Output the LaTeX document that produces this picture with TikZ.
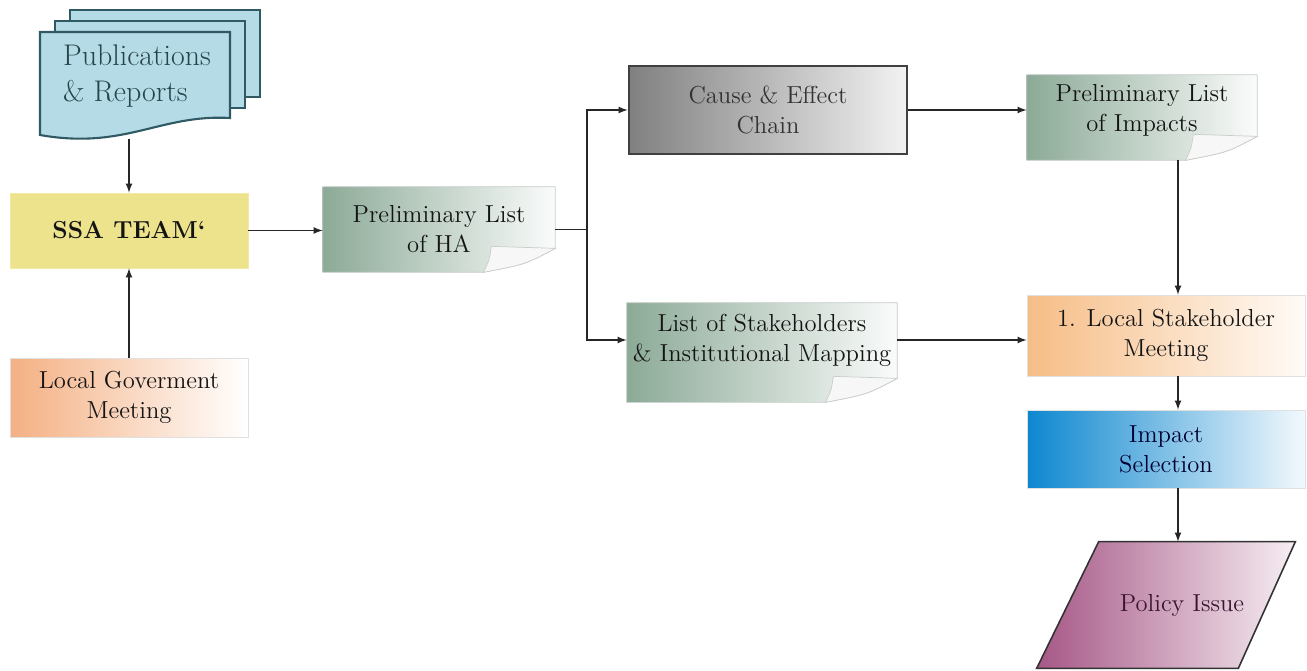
\documentclass[tikz,border=0pt]{standalone}
\usepackage{fontspec}
\usetikzlibrary{calc,backgrounds}

\definecolor{pubblue}{HTML}{B5DCE6}
\definecolor{publine}{HTML}{2F5963}
\definecolor{pubtext}{HTML}{26444A}
\definecolor{ssayellow}{HTML}{EDE38D}
\definecolor{govorange}{HTML}{F4B083}
\definecolor{sheetgreen}{HTML}{8CAA97}
\definecolor{sheetline}{HTML}{C8CEC9}
\definecolor{chaingray}{HTML}{808080}
\definecolor{meetorange}{HTML}{F6BD86}
\definecolor{selblue}{HTML}{0D87CF}
\definecolor{polmauve}{HTML}{A65786}
\definecolor{poltext}{HTML}{3A1630}

% note sheet with a curled corner round a node
\newcommand{\curlbox}[2]{%
  \begin{scope}[on background layer]
  \path[left color=sheetgreen, right color=white!96!sheetgreen, draw=sheetline]
    (#1.north west) -- (#1.north east) -- ($(#1.south east)+(0,#2-24)$)
    .. controls ($(#1.south east)+(-30,#2-8)$) .. ($(#1.south east)+(-72,#2)$)
    -- ($(#1.south west)+(0,#2)$) -- cycle;
  \path[fill=white!92!blue!40!gray!10, draw=sheetline]
    ($(#1.south east)+(-72,#2)$) .. controls ($(#1.south east)+(-66,#2-12)$) .. ($(#1.south east)+(-64,#2-26)$)
    -- ($(#1.south east)+(0,#2-24)$)
    .. controls ($(#1.south east)+(-30,#2-8)$) .. cycle;
  \end{scope}
  \coordinate (#1-bot) at ($(#1.south)+(0,#2)$);
}

\begin{document}
\begin{tikzpicture}[x=0.02cm,y=-0.02cm,
  txt/.style={font=\fontsize{14}{17}\selectfont, text=black!92, align=center},
  box/.style={txt, inner sep=0pt},
  flatbox/.style={box, draw=black!12},
  sheet/.style={box},
  docsheet/.style={fill=pubblue, draw=publine, line width=1.2pt},
  arr/.style={->, >=latex, line width=0.8pt, draw=black!85}]
\useasboundingbox (0,0) rectangle (1307,670);

% publications stack
\foreach \d in {2,1}
  \draw[docsheet] (40+15*\d,32-11*\d) rectangle ++(190,87);
\draw[docsheet] (40,32) -- (230,32) -- (230,118)
  .. controls (160,114) and (125,150) .. (40,135) -- cycle;
\node[txt, align=left, font=\fontsize{17}{20}\selectfont, text=pubtext] (pub) at (137,76) {Publications\\\& Reports};
\coordinate (pubend) at (129,139);

\node[flatbox, fill=ssayellow, draw=ssayellow!80!white, minimum width=4.76cm, minimum height=1.5cm, font=\fontsize{14}{17}\bfseries\selectfont] (ssa) at (129,230.5) {SSA TEAM`};
\node[flatbox, left color=govorange, right color=white, minimum width=4.76cm, minimum height=1.58cm] (gov) at (129,397.5) {Local Goverment\\Meeting};

\node[sheet, minimum width=4.64cm, minimum height=1.7cm] (ha) at (439,229.5) {Preliminary List\\of HA};
\curlbox{ha}{0}

\node[box, draw=black!75, line width=1.5pt, left color=chaingray, right color=white!95!black, minimum width=5.56cm, minimum height=1.76cm, text=black!80] (ce) at (768,110) {Cause \& Effect\\Chain};

\node[sheet, minimum width=4.6cm, minimum height=1.4cm] (imp) at (1142,110) {Preliminary List\\of Impacts};
\curlbox{imp}{15}

\node[sheet, minimum width=5.4cm, minimum height=1.48cm] (stk) at (762,340) {List of Stakeholders\\\& Institutional Mapping};
\curlbox{stk}{25}

\node[flatbox, left color=meetorange, right color=white!97!orange, minimum width=5.56cm, minimum height=1.62cm] (lsm) at (1166,335.5) {1. Local Stakeholder\\Meeting};
\node[flatbox, left color=selblue, right color=white!95!selblue, minimum width=5.56cm, minimum height=1.56cm, text=black!80!blue] (is) at (1166,449) {Impact\\Selection};

\node[box, minimum width=3.96cm, minimum height=2.52cm, text=poltext] (pol) at (1167,605) {\hspace*{0.6cm}Policy Issue};
\begin{scope}[on background layer]
\path[left color=polmauve, right color=white!90!polmauve, draw=black!80, line width=0.9pt]
  ($(pol.north west)+(31,0)$) -- ($(pol.north east)+(29,0)$)
  -- ($(pol.south east)+(-28,0)$) -- ($(pol.south west)+(-31,0)$) -- cycle;
\end{scope}

\coordinate (split) at (587,229.5);
\coordinate (col) at (1178,0);

\draw[arr] (pubend) -- (ssa.north);
\draw[arr] (gov.north) -- (ssa.south);
\draw[arr] (ssa.east) -- (ssa.east -| ha.west);
\draw[line width=0.8pt, draw=black!85] (ha.east) -- (split);
\draw[arr] (split) |- (ce.west);
\draw[arr] (split) |- (stk.west);
\draw[arr] (ce.east) -- (imp.west);
\draw[arr] (stk.east) -- (stk.east -| lsm.west);
\draw[arr] (imp-bot -| col) -- (lsm.north -| col);
\draw[arr] (lsm.south -| col) -- (is.north -| col);
\draw[arr] (is.south -| col) -- (pol.north -| col);
\end{tikzpicture}
\end{document}
